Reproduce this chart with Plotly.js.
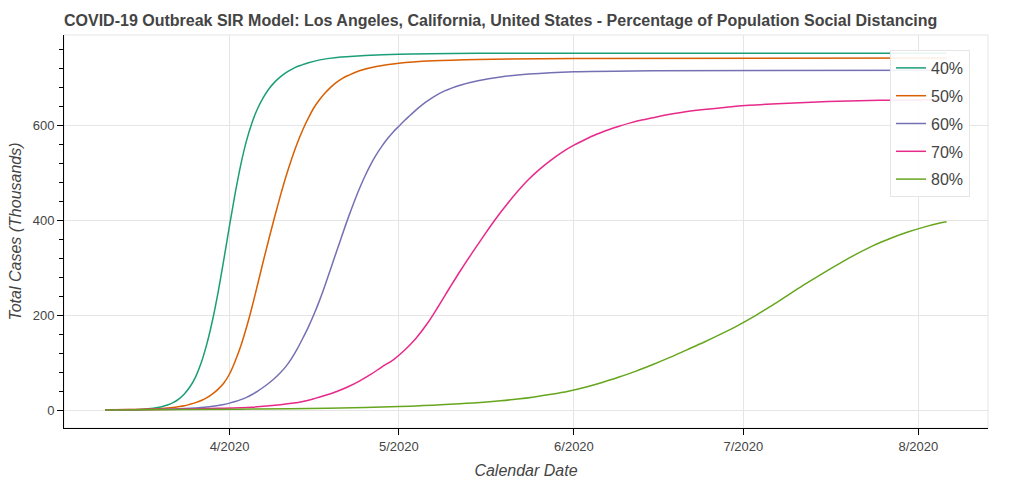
<!DOCTYPE html>
<html>
<head>
<meta charset="utf-8">
<script src="https://cdn.plot.ly/plotly-3.0.1.min.js"></script>
<style>html,body{margin:0;padding:0;background:#fff;}#chart{width:1024px;height:482px;}</style>
</head>
<body>
<div id="chart"></div>
<script>
// Series names and colours
const seriesNames = ['40%', '50%', '60%', '70%', '80%'];
const seriesColors = ['#1b9e77', '#d95f02', '#7570b3', '#e7298a', '#66a61e'];

// 40% social distancing (total cases, thousands)
const d40 = ['2020-03-10','2020-03-12','2020-03-14','2020-03-16','2020-03-18','2020-03-19','2020-03-20','2020-03-21','2020-03-22','2020-03-23','2020-03-24','2020-03-25','2020-03-26','2020-03-27','2020-03-28','2020-03-29','2020-03-30','2020-03-31','2020-04-01','2020-04-02','2020-04-03','2020-04-04','2020-04-05','2020-04-06','2020-04-07','2020-04-08','2020-04-09','2020-04-10','2020-04-11','2020-04-12','2020-04-13','2020-04-14','2020-04-15','2020-04-17','2020-04-20','2020-04-25','2020-05-01','2020-05-15','2020-08-06'];
const v40 = [0.1,0.3,0.6,1.3,3,4.6,7,10.5,15.5,23,34,49,70,100,140,190,250,318,389,457,518,568,607,637,660,678,692,703,712,719,725,729,733,739,744,748,751,753,753];

// 50%
const d50 = ['2020-03-10','2020-03-14','2020-03-18','2020-03-20','2020-03-22','2020-03-24','2020-03-25','2020-03-26','2020-03-27','2020-03-28','2020-03-29','2020-03-30','2020-03-31','2020-04-01','2020-04-02','2020-04-03','2020-04-04','2020-04-05','2020-04-06','2020-04-07','2020-04-08','2020-04-09','2020-04-10','2020-04-11','2020-04-12','2020-04-13','2020-04-14','2020-04-15','2020-04-16','2020-04-17','2020-04-18','2020-04-19','2020-04-20','2020-04-21','2020-04-22','2020-04-24','2020-04-27','2020-05-01','2020-05-07','2020-05-15','2020-06-01','2020-08-06'];
const v50 = [0.2,0.8,2,3.2,5.5,9,12,15.5,20,26,34,44,57,76,103,135,174,218,266,315,362,408,452,493,530,563,592,617,639,656,670,682,692,700,706,716,725,732,737,740,742,743];

// 60%
const d60 = ['2020-03-10','2020-03-15','2020-03-20','2020-03-24','2020-03-26','2020-03-28','2020-03-29','2020-03-30','2020-03-31','2020-04-01','2020-04-02','2020-04-03','2020-04-04','2020-04-05','2020-04-06','2020-04-07','2020-04-08','2020-04-09','2020-04-10','2020-04-11','2020-04-12','2020-04-13','2020-04-14','2020-04-15','2020-04-16','2020-04-17','2020-04-18','2020-04-19','2020-04-20','2020-04-21','2020-04-22','2020-04-23','2020-04-24','2020-04-25','2020-04-26','2020-04-27','2020-04-28','2020-04-29','2020-04-30','2020-05-01','2020-05-02','2020-05-03','2020-05-04','2020-05-05','2020-05-06','2020-05-07','2020-05-09','2020-05-12','2020-05-15','2020-05-19','2020-05-24','2020-06-01','2020-06-15','2020-08-06'];
const v60 = [0.2,0.5,1.4,3,4.4,6.5,7.9,9.6,11.8,14.5,17.8,21.8,26.7,32.7,40,48,57,67,78.5,92,109,129,152,176,203,233,266,301,336,371,405,437,467,494,518,539,557,573,587,599,611,622,633,643,652,660,673,686,695,703,709,714,716,717];

// 70%
const d70 = ['2020-03-10','2020-03-20','2020-03-30','2020-04-05','2020-04-10','2020-04-12','2020-04-14','2020-04-16','2020-04-18','2020-04-20','2020-04-22','2020-04-24','2020-04-26','2020-04-28','2020-04-30','2020-05-02','2020-05-04','2020-05-06','2020-05-08','2020-05-10','2020-05-12','2020-05-14','2020-05-16','2020-05-18','2020-05-20','2020-05-22','2020-05-24','2020-05-26','2020-05-28','2020-05-30','2020-06-01','2020-06-03','2020-06-05','2020-06-07','2020-06-09','2020-06-11','2020-06-13','2020-06-15','2020-06-17','2020-06-20','2020-06-24','2020-06-28','2020-07-02','2020-07-08','2020-07-16','2020-07-26','2020-08-06'];
const v70 = [0.3,1.2,3.5,6,11,14,18,24,31,39,49,61,75,91,106,126,151,182,219,258,296,332,367,401,432,461,487,509,528,545,559,571,582,591,599,606,612,617,622,628,634,639,643,647,651,654,655];

// 80%
const d80 = ['2020-03-10','2020-03-25','2020-04-05','2020-04-15','2020-04-25','2020-05-01','2020-05-04','2020-05-07','2020-05-10','2020-05-13','2020-05-16','2020-05-19','2020-05-22','2020-05-25','2020-05-28','2020-05-31','2020-06-03','2020-06-06','2020-06-09','2020-06-12','2020-06-15','2020-06-18','2020-06-21','2020-06-24','2020-06-27','2020-06-30','2020-07-03','2020-07-06','2020-07-09','2020-07-12','2020-07-15','2020-07-18','2020-07-21','2020-07-24','2020-07-27','2020-07-30','2020-08-02','2020-08-05','2020-08-06'];
const v80 = [0,1,2,3.3,5.2,7.2,8.6,10.2,12,14,16.5,19.5,23,27.5,33,39.5,48,58,69.5,82,96,111,127,143,160,178,198,220,243,266,288,309,329,347,362,375,386,395,397.5];

// Axis ticks
const xTickVals = ['2020-04-01','2020-05-01','2020-06-01','2020-07-01','2020-08-01'];
const xTickText = ['4/2020','5/2020','6/2020','7/2020','8/2020'];
const yTickVals = [0, 200, 400, 600];
const yTickText = ['0', '200', '400', '600'];

const xs = [d40, d50, d60, d70, d80];
const ys = [v40, v50, v60, v70, v80];

const FONT = 'Liberation Sans, Arial, Helvetica, sans-serif';
const traces = seriesNames.map((n, i) => ({
  type: 'scatter', mode: 'lines', name: n, legendgroup: 'g' + i,
  x: xs[i], y: ys[i],
  line: {color: seriesColors[i], width: 1.5, shape: 'spline', smoothing: 1, simplify: false},
  hoverinfo: 'x+y+name'
}));

const layout = {
  width: 1024, height: 482,
  margin: {l: 64, r: 36, t: 35, b: 54, pad: 0},
  paper_bgcolor: '#fff', plot_bgcolor: '#fff',
  font: {family: FONT, color: '#444'},
  title: {
    text: 'COVID-19 Outbreak SIR Model: Los Angeles, California, United States - Percentage of Population Social Distancing',
    font: {family: FONT, size: 16, color: '#444', weight: 'bold'},
    xref: 'container', yref: 'container', x: 64/1024, xanchor: 'left', y: 1 - 20/482, yanchor: 'middle'
  },
  xaxis: {
    type: 'date',
    range: ['2020-03-02 16:30', '2020-08-13 08:00'],
    tickmode: 'array', tickvals: xTickVals, ticktext: xTickText,
    ticks: 'outside', ticklen: 6, tickcolor: '#000', tickwidth: 1,
    showline: true, linecolor: '#000', linewidth: 1,
    showgrid: true, gridcolor: '#e5e5e5', gridwidth: 1, zeroline: false,
    tickfont: {family: FONT, size: 13, color: '#444'},
    title: {text: 'Calendar Date', font: {family: FONT, size: 16, color: '#444', style: 'italic'}, standoff: 12},
    automargin: false, fixedrange: true
  },
  yaxis: {
    range: [-38, 791.5],
    tickmode: 'array', tickvals: yTickVals, ticktext: yTickText,
    ticks: 'outside', ticklen: 6, tickcolor: '#000', tickwidth: 1,
    minor: {tickmode: 'linear', tick0: 0, dtick: 40, ticks: 'outside', ticklen: 4, tickcolor: '#000', tickwidth: 1, showgrid: false},
    showline: true, linecolor: '#000', linewidth: 1,
    showgrid: true, gridcolor: '#e5e5e5', gridwidth: 1, zeroline: false,
    tickfont: {family: FONT, size: 13, color: '#444'},
    title: {text: 'Total Cases (Thousands)', font: {family: FONT, size: 16, color: '#444', style: 'italic'}, standoff: 7},
    automargin: false, fixedrange: true
  },
  legend: {
    x: (890 - 64) / 924, xanchor: 'left', y: (428 - 50) / 393, yanchor: 'top',
    bgcolor: 'rgba(255,255,255,0.9)', bordercolor: '#e5e5e5', borderwidth: 1,
    font: {family: FONT, size: 16, color: '#444'},
    traceorder: 'grouped', tracegroupgap: 4
  },
  shapes: [{type: 'rect', xref: 'paper', yref: 'paper', x0: 0, x1: 1, y0: 0, y1: 1, line: {color: '#e5e5e5', width: 1}, layer: 'below'}],
  showlegend: true
};

Plotly.newPlot('chart', traces, layout, {displayModeBar: false});
</script>
</body>
</html>
